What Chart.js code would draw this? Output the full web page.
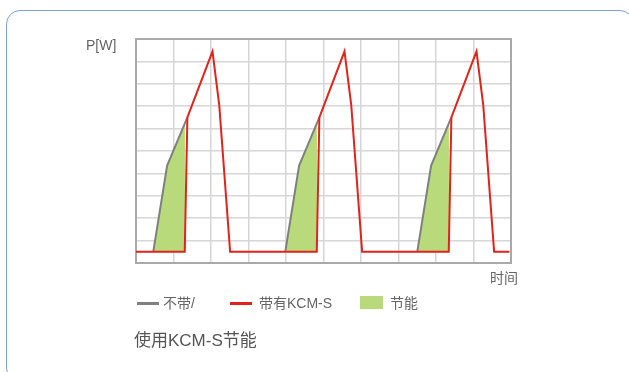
<!DOCTYPE html>
<html>
<head>
<meta charset="utf-8">
<script src="https://cdn.jsdelivr.net/npm/chart.js@4/dist/chart.umd.min.js"></script>
<style>
    html, body { margin: 0; padding: 0; background: #fff; overflow: hidden; }
    body { width: 629px; height: 372px; position: relative; font-family: "Liberation Sans", "Noto Sans CJK SC", sans-serif; color: #666; }
    .frame { position: absolute; left: 6px; top: 10px; width: 626px; height: 370px; border: 1.5px solid #7f9fd6; border-radius: 14px; }
    #wrap { position: absolute; left: 0; top: 0; width: 629px; height: 372px; }
    .lbl { position: absolute; font-size: 14px; line-height: 16px; white-space: nowrap; }
    .swatch-line { position: absolute; height: 3px; }
    .swatch-box { position: absolute; background: #b9da7b; }
    .footer { position: absolute; left: 134px; top: 331px; font-size: 17px; line-height: 20px; white-space: nowrap; color: #555; }
</style>
</head>
<body>
<div class="frame"></div>
<div id="wrap"><canvas id="powerChart"></canvas></div>

<div class="lbl" style="left:86px; top:37px;">P[W]</div>
<div class="lbl" style="left:490px; top:270px;">时间</div>

<div class="swatch-line" style="left:137px; top:302px; width:22px; background:#808080;"></div>
<div class="lbl" style="left:163px; top:295px;">不带/</div>
<div class="swatch-line" style="left:230px; top:302px; width:22px; background:#e0241c;"></div>
<div class="lbl" style="left:259px; top:295px;">带有KCM-S</div>
<div class="swatch-box" style="left:360px; top:296px; width:23px; height:13px;"></div>
<div class="lbl" style="left:390px; top:295px;">节能</div>

<div class="footer">使用KCM-S节能</div>

<script>
// ===== DATA (x in grid columns, y in grid rows) =====
const xWith = [0, 1.30, 1.37, 2.04, 2.22, 2.51, 4.82, 4.89, 5.56, 5.74, 6.03, 8.34, 8.41, 9.08, 9.26, 9.55, 9.96];
const yWith = [0.5, 0.5, 6.5, 9.45, 7.05, 0.5, 0.5, 6.5, 9.45, 7.05, 0.5, 0.5, 6.5, 9.45, 7.05, 0.5, 0.5];

const xWithout = [0.46, 0.83, 1.37, 1.40, 3.98, 4.35, 4.89, 4.92, 7.50, 7.87, 8.41];
const yWithout = [0.5, 4.35, 6.5, null, 0.5, 4.35, 6.5, null, 0.5, 4.35, 6.5];

const xSaving = [0.46, 0.83, 1.37, 1.30, 1.40, 3.98, 4.35, 4.89, 4.82, 4.92, 7.50, 7.87, 8.41, 8.34];
const ySaving = [0.5, 4.35, 6.5, 0.5, null, 0.5, 4.35, 6.5, 0.5, null, 0.5, 4.35, 6.5, 0.5];

const seriesNames = ['带有KCM-S', '不带/', '节能'];

function toPoints(xs, ys) {
    return xs.map((x, i) => ({ x: x, y: ys[i] }));
}

// ===== PLOT FRAME =====
const frameBorder = {
    id: 'frameBorder',
    beforeDatasetsDraw(chart) {
        const a = chart.chartArea;
        const c = chart.ctx;
        c.save();
        c.strokeStyle = '#a9a9a9';
        c.lineWidth = 2;
        c.strokeRect(a.left, a.top, a.right - a.left, a.bottom - a.top);
        c.restore();
    }
};

document.addEventListener('DOMContentLoaded', function() {
    const ctx = document.getElementById('powerChart');

    new Chart(ctx, {
        type: 'line',
        data: {
            datasets: [{
                label: seriesNames[0],
                data: toPoints(xWith, yWith),
                borderColor: '#e0241c',
                borderWidth: 2,
                pointRadius: 0,
                tension: 0,
                fill: false
            }, {
                label: seriesNames[1],
                data: toPoints(xWithout, yWithout),
                borderColor: '#808080',
                borderWidth: 2,
                pointRadius: 0,
                tension: 0,
                spanGaps: false,
                fill: false
            }, {
                label: seriesNames[2],
                data: toPoints(xSaving, ySaving),
                borderColor: 'rgba(0,0,0,0)',
                borderWidth: 0,
                backgroundColor: '#b9da7b',
                pointRadius: 0,
                tension: 0,
                spanGaps: false,
                fill: { value: 0.5 }
            }]
        },
        options: {
            responsive: true,
            maintainAspectRatio: false,
            animation: false,
            layout: {
                padding: { left: 136, top: 39, right: 118, bottom: 109 }
            },
            plugins: {
                legend: { display: false },
                tooltip: { enabled: false }
            },
            scales: {
                x: {
                    type: 'linear',
                    min: 0,
                    max: 10,
                    ticks: { display: false, stepSize: 1 },
                    grid: { color: '#d6d6d6', lineWidth: 1.5, drawTicks: false },
                    border: { display: false }
                },
                y: {
                    min: 0,
                    max: 10,
                    ticks: { display: false, stepSize: 1 },
                    grid: { color: '#d6d6d6', lineWidth: 1.5, drawTicks: false },
                    border: { display: false }
                }
            }
        },
        plugins: [frameBorder]
    });
});
</script>
</body>
</html>
